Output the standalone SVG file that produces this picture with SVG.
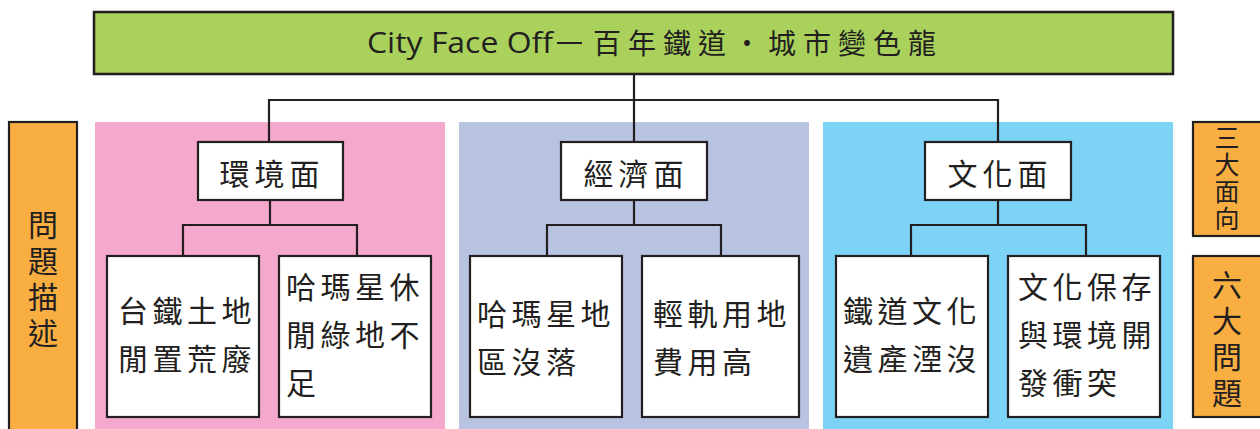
<svg xmlns="http://www.w3.org/2000/svg" width="1260" height="429" viewBox="0 0 1260 429">
<style>
.box{fill:#ffffff;stroke:#231f20;stroke-width:2.2}
.side{fill:#f9ae42;stroke:#231f20;stroke-width:2.2}
.cn{font-family:"Noto Sans CJK TC","Noto Sans CJK SC",sans-serif;fill:#231f20;font-size:30px;letter-spacing:4.5px}
.lv2{font-family:"Noto Sans CJK TC",sans-serif;fill:#231f20;font-size:30px;letter-spacing:5px;text-anchor:middle}
.vt{font-family:"Noto Sans CJK TC",sans-serif;fill:#231f20;writing-mode:vertical-rl;text-orientation:upright}
.conn{fill:none;stroke:#231f20;stroke-width:2.2}
</style>
<rect x="0" y="0" width="1260" height="429" fill="#ffffff"/>
<g id="panels">
<rect x="95" y="122" width="350" height="310" fill="#f4a8cc"/>
<rect x="459" y="122" width="350" height="310" fill="#b8c3e2"/>
<rect x="823" y="122" width="350" height="310" fill="#7dd3f5"/>
</g>
<g id="title">
<rect x="94" y="12" width="1079" height="62" fill="#a9d15b" stroke="#231f20" stroke-width="2.5"/>
<text x="367" y="53" font-family="'Open Sans',sans-serif" font-size="30" fill="#231f20" textLength="186" lengthAdjust="spacingAndGlyphs">City Face Off</text>
<line x1="557" y1="43" x2="582" y2="43" stroke="#231f20" stroke-width="2"/>
<text x="593" y="54" font-family="'Noto Sans CJK TC',sans-serif" font-size="28" fill="#231f20" letter-spacing="7">百年鐵道・城市變色龍</text>
</g>
<g id="label-left">
<rect class="side" x="9" y="122" width="68" height="320"/>
<text class="vt" x="43" y="210" font-size="30" letter-spacing="6">問題描述</text>
</g>
<g id="label-right-1">
<rect class="side" x="1193" y="122" width="80" height="114"/>
<text class="vt" x="1227" y="125" font-size="25" letter-spacing="2">三大面向</text>
</g>
<g id="label-right-2">
<rect class="side" x="1193" y="256" width="80" height="161"/>
<text class="vt" x="1227" y="270" font-size="30" letter-spacing="6">六大問題</text>
</g>
<g id="connectors">
<path class="conn" d="M634 74V100M269 142V100H998V142M634 100V142"/>
<path class="conn" d="M270 200V225M183 256V225H357V256"/>
<path class="conn" d="M634 200V225M547 256V225H721V256"/>
<path class="conn" d="M998 200V225M911 256V225H1086V256"/>
</g>
<g id="env">
<rect class="box" x="198" y="142" width="145" height="58"/>
<text class="lv2" x="272" y="185">環境面</text>
</g>
<g id="eco">
<rect class="box" x="561" y="142" width="146" height="58"/>
<text class="lv2" x="636" y="185">經濟面</text>
</g>
<g id="cul">
<rect class="box" x="925" y="142" width="146" height="58"/>
<text class="lv2" x="1000" y="185">文化面</text>
</g>
<g id="env-1">
<rect class="box" x="107" y="256" width="152" height="161"/>
<text class="cn"><tspan x="118" y="322">台鐵土地</tspan><tspan x="118" y="370">閒置荒廢</tspan></text>
</g>
<g id="env-2">
<rect class="box" x="279" y="256" width="152" height="161"/>
<text class="cn"><tspan x="286" y="298">哈瑪星休</tspan><tspan x="286" y="346">閒綠地不</tspan><tspan x="286" y="394">足</tspan></text>
</g>
<g id="eco-1">
<rect class="box" x="470" y="256" width="152" height="161"/>
<text class="cn"><tspan x="477" y="325">哈瑪星地</tspan><tspan x="477" y="373">區沒落</tspan></text>
</g>
<g id="eco-2">
<rect class="box" x="642" y="256" width="157" height="161"/>
<text class="cn"><tspan x="653" y="325">輕軌用地</tspan><tspan x="653" y="373">費用高</tspan></text>
</g>
<g id="cul-1">
<rect class="box" x="836" y="256" width="152" height="161"/>
<text class="cn"><tspan x="843" y="322">鐵道文化</tspan><tspan x="843" y="370">遺產湮沒</tspan></text>
</g>
<g id="cul-2">
<rect class="box" x="1008" y="256" width="152" height="161"/>
<text class="cn"><tspan x="1018" y="298">文化保存</tspan><tspan x="1018" y="346">與環境開</tspan><tspan x="1018" y="394">發衝突</tspan></text>
</g>
</svg>
